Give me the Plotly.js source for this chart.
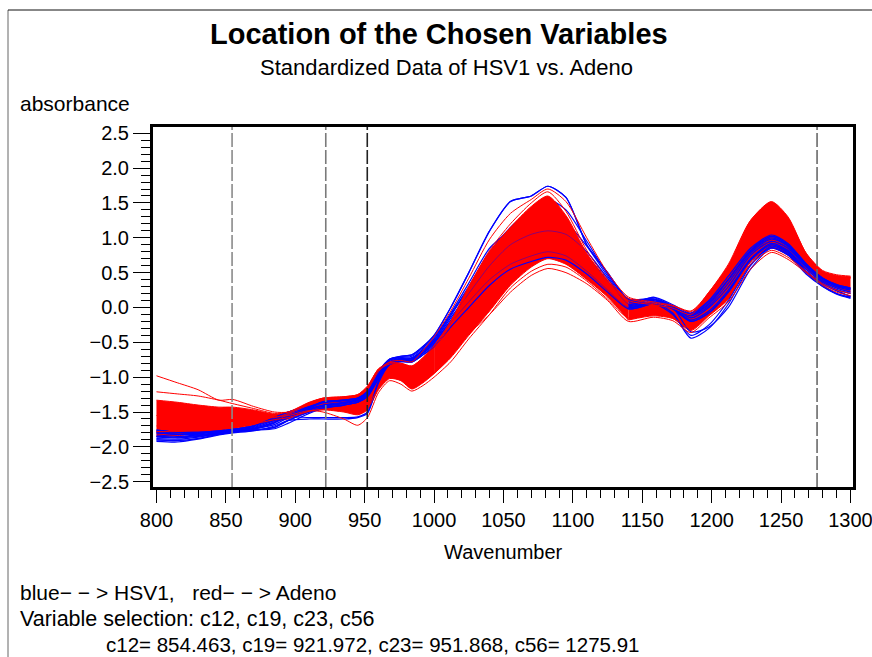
<!DOCTYPE html>
<html><head><meta charset="utf-8">
<script src="https://cdn.plot.ly/plotly-3.0.1.min.js"></script>
<style>html,body{margin:0;padding:0;background:#fff;} #chart{width:872px;height:657px;}</style>
</head><body><div id="chart"></div>
<script>
// ---- data ----
const wavenumber = [800, 815, 830, 845, 855, 870, 885, 895, 910, 920, 935, 945, 952, 960, 968, 976, 984, 992, 1000, 1012, 1025, 1040, 1055, 1070, 1082, 1095, 1110, 1125, 1140, 1158, 1172, 1185, 1198, 1212, 1228, 1243, 1255, 1268, 1280, 1290, 1300];

// dense red (Adeno) band envelope
const adenoBandUpper = [-1.33,-1.36,-1.40,-1.43,-1.43,-1.47,-1.53,-1.50,-1.36,-1.30,-1.28,-1.25,-1.13,-0.88,-0.80,-0.80,-0.84,-0.72,-0.55,-0.20,0.30,0.80,1.15,1.45,1.60,1.32,0.78,0.38,0.12,0.05,0.00,-0.08,0.22,0.60,1.25,1.52,1.30,0.78,0.52,0.46,0.44];
const adenoBandLower = [-1.85,-1.84,-1.81,-1.77,-1.74,-1.69,-1.63,-1.60,-1.50,-1.47,-1.50,-1.54,-1.47,-1.18,-1.02,-1.05,-1.17,-1.08,-0.95,-0.72,-0.40,-0.05,0.32,0.58,0.70,0.62,0.40,0.15,-0.18,-0.12,-0.16,-0.33,-0.12,0.12,0.65,0.85,0.75,0.55,0.36,0.28,0.22];

// individual Adeno curves outside the dense band
const adenoHighLeft  = [-0.98,-1.08,-1.18,-1.33,-1.32,-1.42,-1.50,-1.50,-1.37,-1.30,-1.28,-1.25,-1.13,-0.88,-0.79,-0.80,-0.84,-0.72,-0.55,-0.20,0.30,0.82,1.20,1.50,1.66,1.38,0.82,0.40,0.13,0.06,0.02,-0.06,0.22,0.62,1.25,1.50,1.28,0.78,0.53,0.47,0.45];
const adenoSecondLeft = [-1.21,-1.24,-1.27,-1.33,-1.38,-1.45,-1.52,-1.50,-1.38,-1.31,-1.29,-1.26,-1.15,-0.90,-0.81,-0.82,-0.86,-0.75,-0.58,-0.25,0.25,0.75,1.12,1.40,1.55,1.28,0.75,0.36,0.10,0.04,-0.01,-0.10,0.18,0.58,1.20,1.46,1.25,0.76,0.51,0.45,0.43];
const adenoEarlyRise = [-1.55,-1.57,-1.58,-1.58,-1.57,-1.58,-1.58,-1.52,-1.40,-1.33,-1.30,-1.27,-1.18,-0.92,-0.78,-0.76,-0.78,-0.62,-0.42,-0.05,0.42,0.98,1.35,1.55,1.70,1.52,1.00,0.50,0.15,0.08,0.03,-0.05,0.20,0.60,1.15,1.40,1.20,0.72,0.50,0.44,0.42];
const adenoDip       = [-1.70,-1.70,-1.69,-1.66,-1.63,-1.60,-1.57,-1.55,-1.48,-1.50,-1.60,-1.69,-1.58,-1.22,-1.05,-1.10,-1.20,-1.12,-1.00,-0.78,-0.45,-0.10,0.28,0.52,0.62,0.58,0.38,0.12,-0.15,-0.10,-0.15,-0.30,-0.10,0.15,0.62,0.82,0.72,0.52,0.34,0.25,0.20];
const adenoLowPeak   = [-1.78,-1.78,-1.76,-1.73,-1.71,-1.67,-1.61,-1.58,-1.49,-1.46,-1.48,-1.52,-1.45,-1.15,-1.00,-1.04,-1.15,-1.06,-0.94,-0.70,-0.38,-0.10,0.22,0.46,0.56,0.50,0.34,0.10,-0.20,-0.14,-0.19,-0.36,-0.15,0.08,0.55,0.79,0.69,0.50,0.32,0.22,0.17];

// HSV1 curves
const hsv1A = [-1.76,-1.79,-1.79,-1.77,-1.75,-1.70,-1.58,-1.50,-1.43,-1.35,-1.33,-1.30,-1.20,-0.92,-0.74,-0.70,-0.68,-0.56,-0.40,0.00,0.50,1.10,1.52,1.60,1.74,1.58,0.90,0.50,0.12,0.12,0.00,-0.10,0.05,0.40,0.82,1.02,0.90,0.62,0.42,0.33,0.28];
const hsv1B = [-1.80,-1.82,-1.82,-1.79,-1.76,-1.72,-1.62,-1.52,-1.44,-1.37,-1.34,-1.31,-1.22,-0.95,-0.76,-0.72,-0.72,-0.60,-0.45,-0.10,0.30,0.80,1.15,1.40,1.55,1.40,0.95,0.48,0.10,0.10,0.00,-0.12,0.02,0.35,0.78,0.98,0.88,0.60,0.40,0.30,0.25];
const hsv1C = [-1.85,-1.86,-1.84,-1.80,-1.77,-1.73,-1.65,-1.55,-1.45,-1.40,-1.36,-1.32,-1.24,-0.98,-0.78,-0.73,-0.74,-0.62,-0.48,-0.15,0.20,0.60,0.90,1.05,1.10,1.05,0.80,0.42,0.05,0.12,0.02,-0.15,0.00,0.30,0.75,0.95,0.85,0.58,0.38,0.28,0.22];
const hsv1D = [-1.88,-1.89,-1.86,-1.81,-1.78,-1.74,-1.68,-1.58,-1.47,-1.42,-1.38,-1.34,-1.26,-1.00,-0.80,-0.75,-0.76,-0.65,-0.52,-0.22,0.08,0.40,0.62,0.74,0.80,0.74,0.52,0.25,0.00,0.08,0.00,-0.18,-0.05,0.25,0.70,0.92,0.82,0.55,0.36,0.26,0.20];
const hsv1E = [-1.90,-1.91,-1.88,-1.82,-1.79,-1.76,-1.72,-1.62,-1.50,-1.44,-1.40,-1.36,-1.28,-1.02,-0.82,-0.77,-0.78,-0.68,-0.56,-0.28,0.00,0.32,0.55,0.66,0.72,0.68,0.48,0.22,-0.02,0.05,-0.02,-0.20,-0.08,0.22,0.68,0.90,0.80,0.52,0.34,0.24,0.16];
const hsv1F = [-1.80,-1.82,-1.80,-1.78,-1.76,-1.74,-1.64,-1.57,-1.58,-1.58,-1.58,-1.57,-1.50,-1.05,-0.80,-0.76,-0.76,-0.65,-0.50,-0.20,0.15,0.55,0.80,0.90,0.95,0.90,0.70,0.35,0.02,0.08,-0.08,-0.44,-0.30,0.05,0.60,0.88,0.78,0.52,0.32,0.20,0.14];
const hsv1G = [-1.92,-1.93,-1.89,-1.83,-1.80,-1.77,-1.70,-1.62,-1.60,-1.60,-1.60,-1.58,-1.52,-1.08,-0.82,-0.78,-0.78,-0.66,-0.54,-0.25,0.10,0.50,0.75,0.85,0.88,0.82,0.62,0.30,0.00,0.06,-0.10,-0.40,-0.25,0.10,0.62,0.86,0.76,0.50,0.30,0.19,0.13];
const hsv1H = [-1.78,-1.80,-1.81,-1.78,-1.75,-1.71,-1.60,-1.50,-1.42,-1.36,-1.33,-1.30,-1.21,-0.93,-0.75,-0.71,-0.70,-0.58,-0.43,-0.08,0.35,0.85,1.10,1.25,1.32,1.22,0.88,0.45,0.08,0.14,0.02,-0.10,0.08,0.40,0.80,1.00,0.88,0.60,0.40,0.31,0.27];
const hsv1I = [-1.83,-1.85,-1.83,-1.80,-1.78,-1.76,-1.74,-1.66,-1.52,-1.45,-1.40,-1.36,-1.27,-1.00,-0.80,-0.74,-0.73,-0.62,-0.47,-0.12,0.28,0.70,0.95,1.10,1.15,1.05,0.75,0.38,0.04,0.15,0.04,-0.08,0.10,0.45,0.85,1.04,0.92,0.63,0.42,0.32,0.26];
const hsv1J = [-1.86,-1.87,-1.85,-1.81,-1.78,-1.75,-1.66,-1.56,-1.46,-1.41,-1.37,-1.33,-1.25,-0.97,-0.78,-0.74,-0.75,-0.63,-0.50,-0.18,0.18,0.62,0.88,0.98,1.00,0.95,0.72,0.36,0.03,0.10,0.00,-0.35,-0.28,0.00,0.55,0.85,0.75,0.48,0.30,0.20,0.15];

// chosen variables
const chosenNames = ['c12', 'c19', 'c23', 'c56'];
const chosenWavenumbers = [854.463, 921.972, 951.868, 1275.91];
const chosenLineColors = ['#8a8a8a', '#7a7a7a', '#222222', '#6a6a6a'];

const xTickVals = [800, 850, 900, 950, 1000, 1050, 1100, 1150, 1200, 1250, 1300];
const yTickVals = [-2.5, -2.0, -1.5, -1.0, -0.5, 0.0, 0.5, 1.0, 1.5, 2.0, 2.5];

// ---- layout helpers ----
const L = 153, T = 127, PW = 700, PH = 360;
const px = v => (v - L) / PW;
const py = v => (T + PH - v) / PH;
const FONT = '"Liberation Sans", Arial, Helvetica, sans-serif';

const RED = '#ff0000', BLUE = '#0000ff';
const line = (x, y, color, w, op) => ({x: x, y: y, type: 'scatter', mode: 'lines', opacity: op || 1,
  line: {color: color, width: w, shape: 'spline', smoothing: 0.7}, hoverinfo: 'skip', showlegend: false});

// band split into wavenumber segments so the drawing order can follow the reference
const bandSegment = (i0, i1) => {
  const xs = wavenumber.slice(i0, i1 + 1);
  const lo = line(xs, adenoBandLower.slice(i0, i1 + 1), RED, 1);
  const hi = line(xs, adenoBandUpper.slice(i0, i1 + 1), RED, 1);
  hi.fill = 'tonexty'; hi.fillcolor = RED;
  return [lo, hi];
};
const hsv1All = [hsv1A, hsv1B, hsv1C, hsv1D, hsv1E, hsv1F, hsv1G, hsv1H, hsv1I, hsv1J];

const traces = [];
traces.push(...bandSegment(0, 18));     // 800-1000: blue drawn over red
traces.push(...bandSegment(28, 40));    // 1140-1300: blue drawn over red
hsv1All.forEach(s => traces.push(line(wavenumber, s, BLUE, 1.2)));
traces.push(...bandSegment(18, 28));    // 1000-1140: red covers most blue
[hsv1A, hsv1E].forEach(s => traces.push(line(wavenumber, s, BLUE, 1.2)));
[hsv1C, hsv1D].forEach(s => traces.push(line(wavenumber, s, BLUE, 1, 0.45)));
[adenoHighLeft, adenoSecondLeft, adenoEarlyRise, adenoDip, adenoLowPeak].forEach(s => traces.push(line(wavenumber, s, RED, 1)));

const shapes = chosenWavenumbers.map((w, i) => ({type: 'line', xref: 'x', yref: 'paper', x0: w, x1: w, y0: 0, y1: 1,
  line: {color: chosenLineColors[i], width: 1.6, dash: '14px,3px'}, layer: 'above'}));
// outer frame (left and top)
shapes.push({type: 'line', xref: 'paper', yref: 'paper', x0: px(8), x1: px(8), y0: py(10), y1: py(660), line: {color: '#666', width: 1}});
shapes.push({type: 'line', xref: 'paper', yref: 'paper', x0: px(8), x1: px(872), y0: py(10), y1: py(10), line: {color: '#111', width: 1}});

const footVals = chosenNames.map((n, i) => n + '= ' + chosenWavenumbers[i]).join(', ');
const ann = (text, x, y, size, anchor) => ({text: text, xref: 'paper', yref: 'paper', x: px(x), y: py(y),
  xanchor: anchor, yanchor: 'middle', showarrow: false, font: {family: FONT, size: size, color: '#000'}});

const annotations = [
  ann('<b>Location of the Chosen Variables</b>', 438.5, 34, 29, 'center'),
  ann('Standardized Data of HSV1 vs. Adeno', 446.5, 68, 22, 'center'),
  ann('absorbance', 18, 103, 21, 'left'),
  ann('Wavenumber', 503, 552, 20, 'center'),
  ann('blue\u2212 \u2212 > HSV1,\u00a0\u00a0\u00a0red\u2212 \u2212 > Adeno', 18, 592, 21, 'left'),
  ann('Variable selection: ' + chosenNames.join(', '), 18, 619, 21.5, 'left'),
  ann(footVals, 104, 644, 20.5, 'left')
];

const layout = {
  width: 872, height: 657,
  margin: {l: L, r: 872 - L - PW, t: T, b: 657 - T - PH, pad: 0},
  paper_bgcolor: '#fff', plot_bgcolor: '#fff',
  showlegend: false, hovermode: false,
  font: {family: FONT, size: 20, color: '#000'},
  xaxis: {range: [797.5, 1301.8], tickvals: xTickVals, ticktext: xTickVals.map(String),
    ticks: 'outside', ticklen: 13, tickwidth: 1, tickcolor: '#000', ticklabeloverflow: 'allow',
    minor: {dtick: 10, tick0: 800, ticks: 'outside', ticklen: 8, tickwidth: 1, tickcolor: '#000'},
    showline: true, mirror: true, linewidth: 3, linecolor: '#000', showgrid: false, zeroline: false,
    tickfont: {family: FONT, size: 20}},
  yaxis: {range: [-2.576, 2.59], tickvals: yTickVals, tickformat: '.1f',
    ticks: 'outside', ticklen: 17, tickwidth: 1, tickcolor: '#000',
    minor: {dtick: 0.1, tick0: 0, ticks: 'outside', ticklen: 9, tickwidth: 1, tickcolor: '#000'},
    showline: true, mirror: true, linewidth: 3, linecolor: '#000', showgrid: false, zeroline: false,
    tickfont: {family: FONT, size: 20}},
  shapes: shapes,
  annotations: annotations
};

Plotly.newPlot('chart', traces, layout, {staticPlot: true, displayModeBar: false});
</script>
</body></html>
